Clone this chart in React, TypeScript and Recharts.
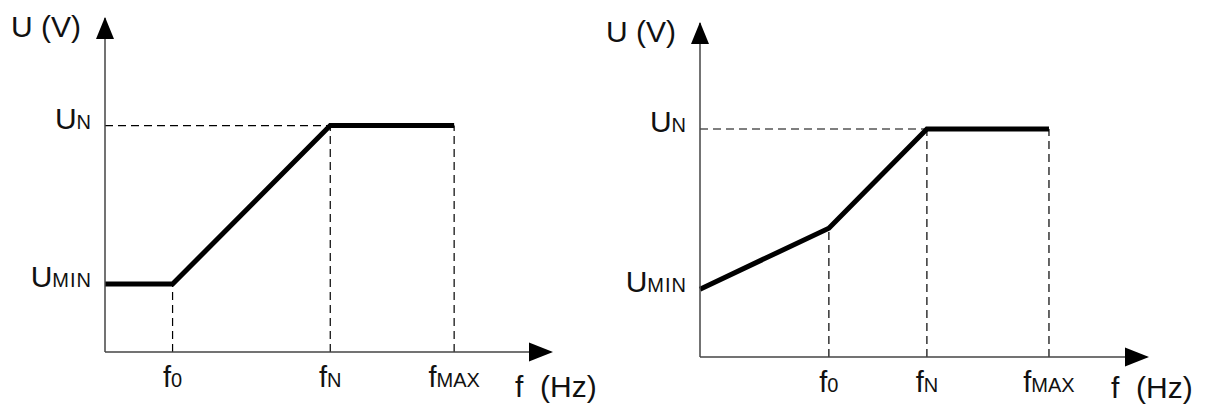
import { LineChart, Line, XAxis, YAxis, ReferenceLine, ReferenceDot } from "recharts";

// left chart: constant U below f0
const leftF = [0, 15, 50, 77.5];
const leftU = [120, 120, 400, 400];
const leftTicksF = [15, 50, 77.5];
const leftTicksU = [120, 400];
const leftFMax = 99;
const leftUMax = 590;

// right chart: boost line below f0
const rightF = [0, 28.4, 50, 76.9];
const rightU = [119, 226, 400, 400];
const rightTicksF = [28.4, 50, 76.9];
const rightTicksU = [119, 400];
const rightFMax = 98.5;
const rightUMax = 586;

const fSubs = ["0", "N", "MAX"];
const uSubs = ["MIN", "N"];

const FONT = "'Liberation Sans', Arial, sans-serif";
const INK = "#111";
const AXIS = "#444";

const XArrow = (props: any) => {
  const { cx, cy } = props;
  return <path d={`M${cx + 2},${cy} L${cx - 22},${cy - 9.5} L${cx - 22},${cy + 9.5} Z`} fill="#000" />;
};

const YArrow = (props: any) => {
  const { cx, cy } = props;
  return <path d={`M${cx},${cy - 1} L${cx - 9},${cy + 21} L${cx + 9},${cy + 21} Z`} fill="#000" />;
};

function VfChart({
  fs,
  us,
  ticksF,
  ticksU,
  fMax,
  uMax,
  width,
  xAxisH,
  labelDy,
  margin,
  dashed,
}: {
  fs: number[];
  us: number[];
  ticksF: number[];
  ticksU: number[];
  fMax: number;
  uMax: number;
  width: number;
  xAxisH: number;
  labelDy: number;
  margin: { top: number; right: number; bottom: number; left: number };
  dashed: [number, number, number, number][];
}) {
  const data = fs.map((f, i) => ({ f, u: us[i] }));

  const xTick = ({ x, y, index }: any) => (
    <text x={x} y={y + 35} textAnchor="middle" fontFamily={FONT} fill={INK}>
      <tspan fontSize={29}>f</tspan>
      <tspan fontSize={20}>{fSubs[index]}</tspan>
    </text>
  );
  const yTick = ({ x, y, index }: any) => (
    <text x={x - 13} y={y + 3} textAnchor="end" fontFamily={FONT} fill={INK}>
      <tspan fontSize={30}>U</tspan>
      <tspan fontSize={20} letterSpacing={1}>
        {uSubs[index]}
      </tspan>
    </text>
  );

  return (
    <LineChart width={width} height={407} data={data} margin={margin}>
      <XAxis
        dataKey="f"
        type="number"
        domain={[0, fMax]}
        ticks={ticksF}
        tick={xTick}
        tickLine={false}
        tickSize={0}
        tickMargin={0}
        height={xAxisH}
        axisLine={{ stroke: AXIS, strokeWidth: 1.5 }}
        label={{
          content: ({ viewBox }: any) => (
            <text
              x={viewBox.x + viewBox.width - 36}
              y={viewBox.y + labelDy}
              fontFamily={FONT}
              fontSize={30}
              fill={INK}
              style={{ whiteSpace: "pre" }}
            >
              {"f  (Hz)"}
            </text>
          ),
        }}
      />
      <YAxis
        type="number"
        domain={[0, uMax]}
        ticks={ticksU}
        tick={yTick}
        tickLine={false}
        tickSize={0}
        tickMargin={0}
        width={60}
        axisLine={{ stroke: AXIS, strokeWidth: 1.5 }}
        label={{
          content: ({ viewBox }: any) => (
            <text
              x={viewBox.x + viewBox.width - 94}
              y={viewBox.y + 19}
              fontFamily={FONT}
              fontSize={30}
              fill={INK}
            >
              U (V)
            </text>
          ),
        }}
      />
      {dashed.map(([x1, y1, x2, y2], i) => (
        <ReferenceLine
          key={i}
          segment={[
            { x: x1, y: y1 },
            { x: x2, y: y2 },
          ]}
          stroke="#000"
          strokeWidth={1.2}
          strokeDasharray="8 5"
        />
      ))}
      <Line
        dataKey="u"
        type="linear"
        stroke="#000"
        strokeWidth={5}
        dot={false}
        isAnimationActive={false}
      />
      <ReferenceDot x={fMax} y={0} r={0} shape={XArrow} />
      <ReferenceDot x={0} y={uMax} r={0} shape={YArrow} />
    </LineChart>
  );
}

export default function App() {
  return (
    <div
      style={{
        position: "absolute",
        left: 0,
        top: 0,
        width: 1210,
        height: 407,
        background: "#fff",
        display: "flex",
      }}
    >
      <VfChart
        fs={leftF}
        us={leftU}
        ticksF={leftTicksF}
        ticksU={leftTicksU}
        fMax={leftFMax}
        uMax={leftUMax}
        width={600}
        xAxisH={40}
        labelDy={45}
        margin={{ top: 18, right: 49, bottom: 15, left: 45 }}
        dashed={[
          [0, leftU[2], leftF[2], leftU[2]],
          [leftF[1], 0, leftF[1], leftU[1]],
          [leftF[2], 0, leftF[2], leftU[2]],
          [leftF[3], 0, leftF[3], leftU[3]],
        ]}
      />
      <VfChart
        fs={rightF}
        us={rightU}
        ticksF={rightTicksF}
        ticksU={rightTicksU}
        fMax={rightFMax}
        uMax={rightUMax}
        width={610}
        xAxisH={40}
        labelDy={41}
        margin={{ top: 23, right: 63, bottom: 10, left: 40 }}
        dashed={[
          [0, rightU[2], rightF[2], rightU[2]],
          [rightF[1], 0, rightF[1], rightU[1]],
          [rightF[2], 0, rightF[2], rightU[2]],
          [rightF[3], 0, rightF[3], rightU[3]],
        ]}
      />
    </div>
  );
}
